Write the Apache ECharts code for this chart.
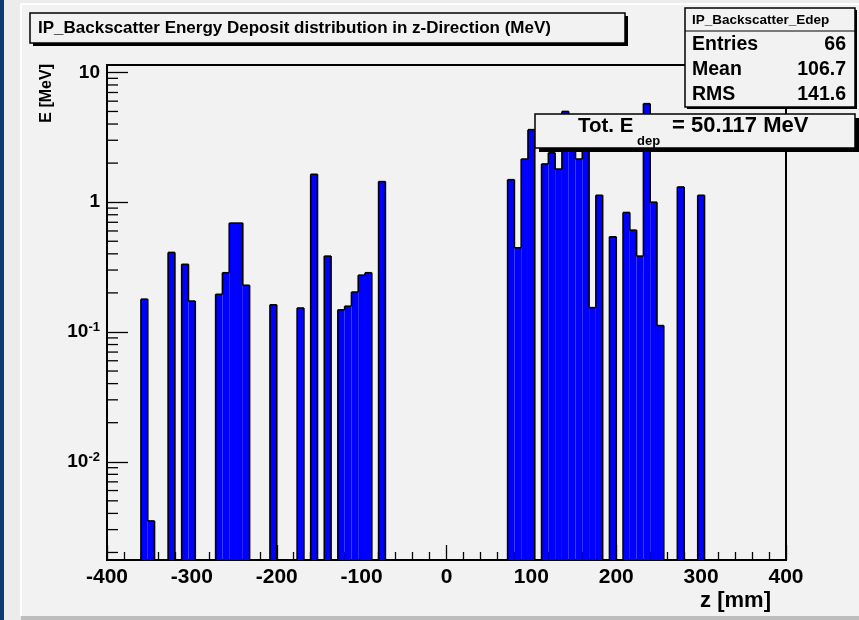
<!DOCTYPE html>
<html>
<head>
<meta charset="utf-8">
<script src="https://cdn.jsdelivr.net/npm/echarts@6/dist/echarts.min.js"></script>
<style>
  html, body { margin: 0; padding: 0; background: #ececec; }
  #chart { width: 859px; height: 620px; }
</style>
</head>
<body>
<div id="chart"></div>
<script>
// Energy deposit per 8 mm bin along z (only filled bins are listed)
const binLowMm = [
  -360, -352, -328, -312, -304, -272, -264, -256, -248, -240,
  -208, -176, -160, -144, -128, -120, -112, -104, -96, -80,
  72, 80, 88, 96, 112, 120, 128, 136, 144, 152,
  160, 168, 176, 192, 208, 216, 224, 232, 240, 248,
  272, 296
];
const edepMeV = [
  0.179, 0.0035, 0.41, 0.332, 0.173, 0.195, 0.286, 0.69, 0.69, 0.229,
  0.162, 0.153, 1.64, 0.384, 0.148, 0.158, 0.203, 0.274, 0.286, 1.44,
  1.49, 0.445, 2.15, 3.62, 1.97, 2.4, 1.80, 5.0, 4.1, 2.15,
  4.01, 0.154, 1.13, 0.541, 0.833, 0.609, 0.384, 5.74, 1.0, 0.112,
  1.31, 1.13
];
const binWidthMm = 8;

// Axis ranges and tick values
const zRange = [-400, 400];
const zTickStep = 100;
const eRange = [0.00175, 11.4];
const eDecades = [0.001, 0.01, 0.1, 1];
const eMinorSteps = [2, 3, 4, 5, 6, 7, 8, 9];

// Statistics box
const histName = 'IP_Backscatter_Edep';
const statLabels = ['Entries', 'Mean', 'RMS'];
const statValues = ['66', '106.7', '141.6'];
const totalLabel = '= 50.117 MeV';

const FONT = '"Liberation Sans", Arial, Helvetica, sans-serif';

const eMinorTicks = [];
eDecades.forEach(d => eMinorSteps.forEach(m => {
  const v = d * m;
  if (v > eRange[0] && v < eRange[1]) eMinorTicks.push(v);
}));

const chart = echarts.init(document.getElementById('chart'), null, { renderer: 'canvas' });

function histItem(params, api) {
  const i = params.dataIndex;
  const lo = api.value(0);
  const v = api.value(1);
  const hi = lo + binWidthMm;
  const base = eRange[0];
  const prev = (i > 0 && binLowMm[i - 1] === lo - binWidthMm) ? edepMeV[i - 1] : base;
  const next = (i < binLowMm.length - 1 && binLowMm[i + 1] === hi) ? edepMeV[i + 1] : base;
  const tl = api.coord([lo, v]);
  const tr = api.coord([hi, v]);
  const bl = api.coord([lo, base]);
  const children = [{
    type: 'rect',
    shape: { x: tl[0], y: tl[1], width: tr[0] - tl[0], height: bl[1] - tl[1] },
    style: { fill: '#0000ff' }
  }];
  const stroke = { stroke: '#000', lineWidth: 1.6, fill: null };
  children.push({ type: 'line', shape: { x1: tl[0], y1: tl[1], x2: tr[0], y2: tr[1] }, style: stroke });
  if (prev < v) {
    const p = api.coord([lo, prev]);
    children.push({ type: 'line', shape: { x1: tl[0], y1: tl[1], x2: p[0], y2: p[1] }, style: stroke });
  }
  if (next < v) {
    const p = api.coord([hi, next]);
    children.push({ type: 'line', shape: { x1: tr[0], y1: tr[1], x2: p[0], y2: p[1] }, style: stroke });
  }
  return { type: 'group', children };
}

function minorTickItem(params, api) {
  const p = api.coord([zRange[0], api.value(0)]);
  return {
    type: 'line',
    shape: { x1: p[0], y1: p[1], x2: p[0] + 11, y2: p[1] },
    style: { stroke: '#000', lineWidth: 1.3 }
  };
}

function boxWithShadow(x, y, w, h, shadow, lw) {
  return [
    { type: 'rect', shape: { x: x + shadow, y: y + shadow, width: w, height: h }, style: { fill: '#000' }, z: 100 },
    { type: 'rect', shape: { x: x, y: y, width: w, height: h }, style: { fill: '#f2f2f2', stroke: '#000', lineWidth: lw }, z: 101 }
  ];
}

const txt = (x, y, text, size, align, extra) => Object.assign({
  type: 'text', x: x, y: y, z: 110,
  style: { text: text, font: 'bold ' + size + 'px ' + FONT, fill: '#000', align: align || 'left', verticalAlign: 'middle' }
}, extra || {});

const graphics = [
  // canvas frame
  { type: 'rect', shape: { x: 21, y: 4, width: 838, height: 612 }, style: { fill: '#f2f2f2' }, z: -10, silent: true },
  { type: 'line', shape: { x1: 21, y1: 4, x2: 21, y2: 616 }, style: { stroke: '#ffffff', lineWidth: 2 }, z: -9 },
  { type: 'line', shape: { x1: 21, y1: 4, x2: 859, y2: 4 }, style: { stroke: '#ffffff', lineWidth: 2 }, z: -9 },
  { type: 'rect', shape: { x: 21, y: 616, width: 838, height: 4 }, style: { fill: '#bdbdbd' }, z: -9 },
  { type: 'rect', shape: { x: 0, y: 0, width: 4, height: 620 }, style: { fill: '#0b3b72' }, z: 120 },

  // title
  ...boxWithShadow(30, 13, 595, 30, 3, 1.5),
  txt(38, 28, 'IP_Backscatter Energy Deposit distribution in z-Direction (MeV)', 17),

  // statistics
  ...boxWithShadow(685, 8, 170, 99, 2, 1.5),
  { type: 'line', shape: { x1: 685, y1: 31, x2: 855, y2: 31 }, style: { stroke: '#000', lineWidth: 1.2 }, z: 105 },
  txt(692, 20, histName, 13.5),
  ...statLabels.map((s, k) => txt(692, 45 + k * 24.7, s, 19.5)),
  ...statValues.map((s, k) => txt(846, 45 + k * 24.7, s, 19.5, 'right')),

  // total deposit
  ...boxWithShadow(535, 114, 320, 34, 4, 1.5),
  txt(578, 126, 'Tot. E', 20.5),
  txt(637, 141, 'dep', 13),
  txt(672, 126, totalLabel, 22),

  // axis titles
  txt(771, 601, 'z [mm]', 22, 'right'),
  txt(47, 64, 'E [MeV]', 16, 'right', { rotation: Math.PI / 2 })
];

chart.setOption({
  animation: false,
  backgroundColor: '#ececec',
  grid: { left: 107, right: 73, top: 65, bottom: 60, show: true, borderColor: '#000', borderWidth: 2, backgroundColor: 'transparent' },
  xAxis: {
    type: 'value', min: zRange[0], max: zRange[1], interval: zTickStep,
    axisLine: { show: true, onZero: false, lineStyle: { color: '#000', width: 2 } },
    axisTick: { show: true, inside: true, length: 15, lineStyle: { color: '#000', width: 1.3 } },
    minorTick: { show: true, splitNumber: 5, length: 8, lineStyle: { color: '#000', width: 1.3 } },
    splitLine: { show: false },
    axisLabel: { color: '#000', fontFamily: FONT, fontWeight: 'bold', fontSize: 21, margin: 7 }
  },
  yAxis: {
    type: 'log', logBase: 10, min: eRange[0], max: eRange[1],
    axisLine: { show: true, onZero: false, lineStyle: { color: '#000', width: 2 } },
    axisTick: { show: true, inside: true, length: 21, lineStyle: { color: '#000', width: 1.3 } },
    splitLine: { show: false },
    axisLabel: {
      showMinLabel: false, showMaxLabel: false, margin: 7, color: '#000',
      fontFamily: FONT, fontWeight: 'bold', fontSize: 19,
      formatter: function (v) {
        const e = Math.round(Math.log10(v));
        if (e >= 0) return String(Math.round(v));
        return '{b|10}{s|' + e + '}';
      },
      rich: {
        b: { fontFamily: FONT, fontWeight: 'bold', fontSize: 19, color: '#000', lineHeight: 22 },
        s: { fontFamily: FONT, fontWeight: 'bold', fontSize: 13, color: '#000', verticalAlign: 'top', lineHeight: 22 }
      }
    }
  },
  series: [
    {
      type: 'custom', name: 'Edep', renderItem: histItem,
      data: binLowMm.map((z, i) => [z, edepMeV[i]]),
      encode: { x: 0, y: 1 }, clip: true, z: 3
    },
    {
      type: 'custom', name: 'minor ticks', renderItem: minorTickItem,
      data: eMinorTicks.map(v => [v]), encode: { y: 0 }, clip: false, silent: true, z: 4
    }
  ],
  graphic: graphics
});
</script>
</body>
</html>
